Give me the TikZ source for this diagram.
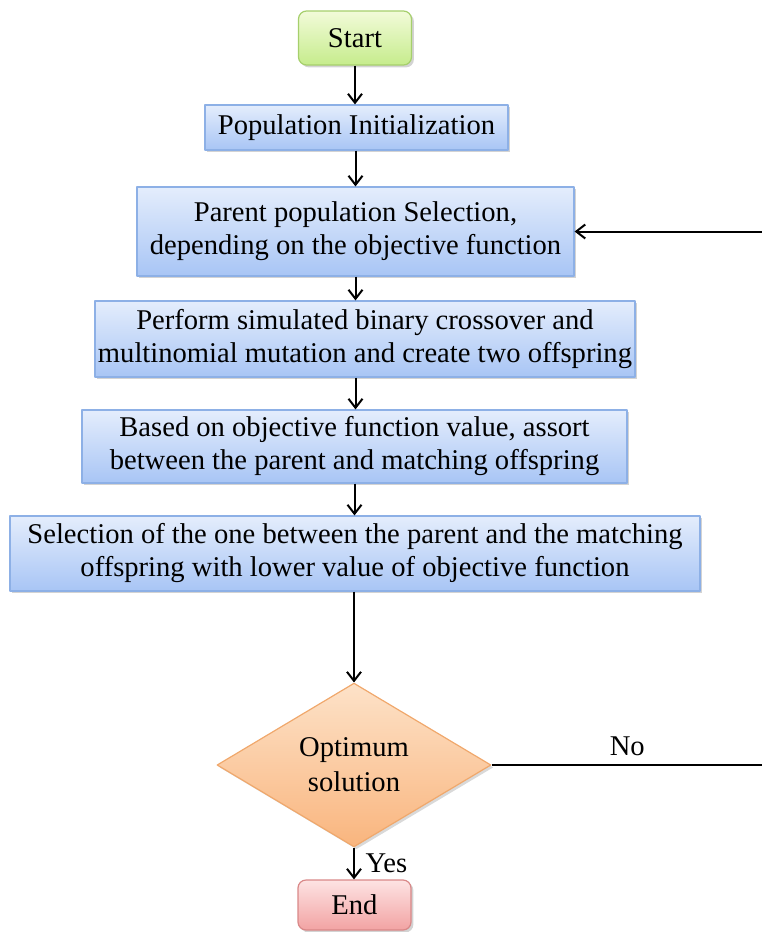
\documentclass[tikz,border=0pt]{standalone}
\usepackage{fontspec}
\setmainfont{Liberation Serif}
\usetikzlibrary{shapes.geometric,shadows,calc,arrows.meta}
\definecolor{boxtop}{HTML}{E4EDFC}
\definecolor{boxbot}{HTML}{A8C5F5}
\definecolor{boxline}{HTML}{8DB0E6}
\definecolor{starttop}{HTML}{F2FBD9}
\definecolor{startbot}{HTML}{C6EC8C}
\definecolor{startline}{HTML}{A6CF6C}
\definecolor{endtop}{HTML}{FDE3E3}
\definecolor{endbot}{HTML}{F2A3A3}
\definecolor{endline}{HTML}{D98888}
\definecolor{dectop}{HTML}{FDE2C8}
\definecolor{decbot}{HTML}{F9B57E}
\definecolor{decline}{HTML}{F0A86C}
\tikzset{
  flowbox/.style={draw=boxline, line width=0.6pt, top color=boxtop, bottom color=boxbot, align=center, inner sep=0pt,
    drop shadow={opacity=0.35, shadow xshift=1.2pt, shadow yshift=-1.2pt}},
  termbox/.style={rounded corners=4pt, line width=0.6pt, align=center, inner sep=0pt,
    drop shadow={opacity=0.35, shadow xshift=1.2pt, shadow yshift=-1.2pt}},
  decbox/.style={diamond, draw=decline, line width=0.6pt, top color=dectop, bottom color=decbot, align=center, inner sep=0pt,
    font=\fontsize{14.3}{17.5}\selectfont, drop shadow={opacity=0.3, shadow xshift=1.2pt, shadow yshift=-1.2pt}},
  flow/.style={->, line width=1pt, black}
}
\begin{document}
\begin{tikzpicture}[x=0.5pt, y=-0.5pt, >={Straight Barb[length=4.5pt,width=7pt]}, font=\fontsize{14.3}{16.5}\selectfont, line join=round]
	\useasboundingbox (0,0) rectangle (761,932);
	\def \bw{0.5pt}
	\node[termbox, draw=startline, top color=starttop, bottom color=startbot, minimum width=113*\bw, minimum height=54*\bw] (start) at (355,38) {Start};
	\node[flowbox, minimum width=303*\bw, minimum height=45*\bw] (init) at (356.5,127.5) {Population Initialization};
	\node[flowbox, minimum width=437*\bw, minimum height=89*\bw] (parent) at (355.5,231.5) {Parent population Selection,\\depending on the objective function};
	\node[flowbox, minimum width=540*\bw, minimum height=76*\bw] (cross) at (365,339) {Perform simulated binary crossover and\\multinomial mutation and create two offspring};
	\node[flowbox, minimum width=545*\bw, minimum height=73*\bw] (assort) at (354.5,446.5) {Based on objective function value, assort\\between the parent and matching offspring};
	\node[flowbox, minimum width=690*\bw, minimum height=75*\bw] (select) at (355,553.5) {Selection of the one between the parent and the matching\\offspring with lower value of objective function};
	\node[decbox, minimum width=274*\bw, minimum height=156*\bw] (dec) at (354,765) {Optimum\\solution};
	\node[termbox, draw=endline, top color=endtop, bottom color=endbot, minimum width=113*\bw, minimum height=50*\bw] (end) at (354.5,905) {End};
	\coordinate (rt) at (763,765);
	\draw[flow] (start.south) -- (start.south |- init.north);
	\draw[flow] (init.south -| parent.north) -- (parent.north);
	\draw[flow] (parent.south) -- (parent.south |- cross.north);
	\draw[flow] (parent.south |- cross.south) -- (parent.south |- assort.north);
	\draw[flow] (assort.south) -- (assort.south |- select.north);
	\draw[flow] (dec.north |- select.south) -- (dec.north);
	\draw[flow] (dec.south) -- node[right, xshift=2pt] {Yes} (dec.south |- end.north);
	\draw[flow] (dec.east) -- node[above, yshift=1pt] {No} (rt) |- (parent.east);
\end{tikzpicture}
\end{document}
